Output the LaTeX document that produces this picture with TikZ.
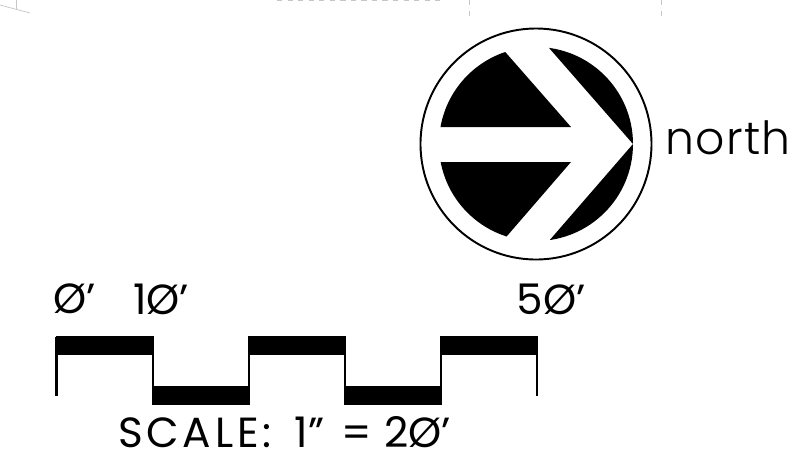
\documentclass[tikz,border=0pt]{standalone}
\usepackage{fontspec}
\setmainfont{Poppins}
\newfontfamily\thinfont{Poppins Light}
\tikzset{
	bar/.style={fill=black,draw=black,line width=0.6pt},
	tick/.style={line width=1.2pt},
	faint/.style={gray!45,line width=0.4pt},
	lettering/.style={inner sep=0pt,font=\fontsize{#1}{#1}\selectfont}
}
\begin{document}
\begin{tikzpicture}[x=0.02cm,y=-0.02cm]
	\useasboundingbox (0,0) rectangle (796,461);
	% leftovers along the top edge
	\draw[faint] (0,5) -- (30,13);
	\draw[faint] (16,0) -- (16,9);
	\draw[faint,dashed] (277,0.5) -- (445,0.5);
	\draw[faint,dashed] (469,0) -- (469,21);
	\draw[faint,dashed] (661,0) -- (661,21);
	% north arrow
	\draw[line width=1.1pt] (536,144) circle (115.5);
	\begin{scope}
		\clip (536,144) circle (97);
		\fill (430,30) -- (486,30) -- (571,127) -- (430,127) -- cycle;
		\fill (430,162) -- (571,162) -- (488,258) -- (430,258) -- cycle;
		\fill (529,25) -- (650,25) -- (650,144) -- (633,144) -- cycle;
		\fill (529,264) -- (650,264) -- (650,144) -- (633,144) -- cycle;
	\end{scope}
	\node[lettering=26] (north) at (728,138) {\thinfont\addfontfeature{LetterSpace=3}north};
	% scale bar
	\foreach \a/\b in {56.5/153,249/345,441/537}
		\draw[bar] (\a,336.5) rectangle (\b,354.5);
	\foreach \a/\b in {153/249,345/441}
		\draw[bar] (\a,387) rectangle (\b,404.5);
	\foreach \x in {153,249,345,441}
		\draw[tick] (\x,336.5) -- (\x,404.5);
	\draw[tick] (56.5,336.5) -- (56.5,396);
	\draw[tick] (537,336.5) -- (537,396);
	\node[lettering=24] (zero) at (75,299) {Ø'};
	\node[lettering=24] (ten) at (161,299) {1Ø'};
	\node[lettering=24] (fifty) at (551,299) {5Ø'};
	\node[lettering=24] (scale) at (284.5,432) {{\addfontfeature{LetterSpace=9}SCALE:}\hspace{0.55em}1"\hspace{0.4em}=\hspace{0.3em}2Ø'};
\end{tikzpicture}
\end{document}
